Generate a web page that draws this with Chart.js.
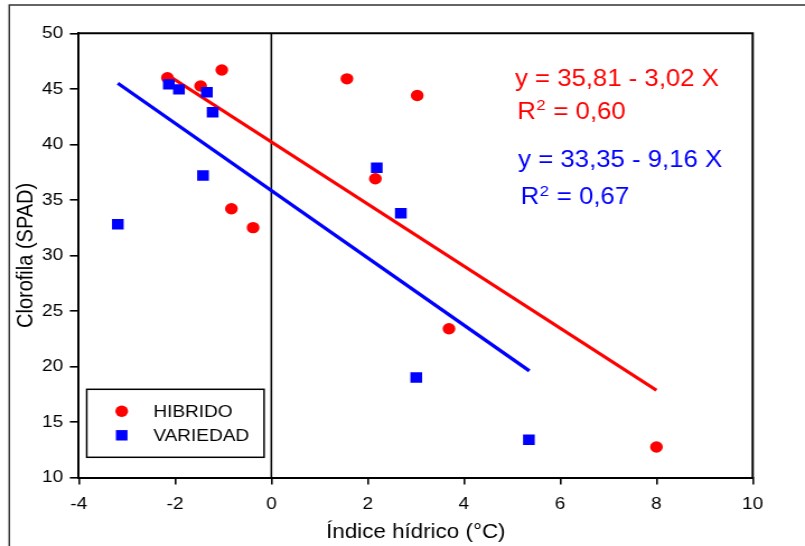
<!DOCTYPE html>
<html>
<head>
<meta charset="utf-8">
<script src="https://cdn.jsdelivr.net/npm/chart.js@4"></script>
<style>
  html, body { margin: 0; padding: 0; background: #fff; overflow: hidden; }
  #wrap { width: 719px; height: 546px; transform: scaleX(1.1196); transform-origin: 0 0; }
</style>
</head>
<body>
<div id="wrap"><canvas id="myChart" width="719" height="546"></canvas></div>
<script>
// valores
var hibridoX = [-2.16, -1.47, -1.03, -0.83, -0.38, 1.57, 2.16, 3.03, 3.69, 8.0];
var hibridoY = [46.0, 45.25, 46.7, 34.2, 32.5, 45.9, 36.9, 44.4, 23.4, 12.75];
var variedadX = [-3.19, -2.13, -1.92, -1.42, -1.34, -1.22, 2.19, 2.69, 3.01, 5.35];
var variedadY = [32.8, 45.4, 44.95, 37.2, 44.7, 42.9, 37.9, 33.8, 19.0, 13.4];

// rectas de regresión (extremos)
var hibridoLineX = [-2.14, 8.0];
var hibridoLineY = [46.2, 17.86];
var variedadLineX = [-3.19, 5.36];
var variedadLineY = [45.5, 19.6];

var eqTexts = ['y = 35,81 - 3,02 X', 'y = 33,35 - 9,16 X'];
var r2Texts = ['0,60', '0,67'];
var eqColors = ['#ff0000', '#0000ff'];

var xTicks = [-4, -2, 0, 2, 4, 6, 8, 10];
var yTicks = [10, 15, 20, 25, 30, 35, 40, 45, 50];

var FONT = "'Liberation Sans', Arial, sans-serif";

function toPoints(xs, ys) {
    return xs.map(function(x, i) { return { x: x, y: ys[i] }; });
}

var extras = {
    id: 'extras',
    beforeDraw: function(chart) {
        var ctx = chart.ctx;
        ctx.save();
        ctx.strokeStyle = '#333';
        ctx.lineWidth = 1.5;
        ctx.beginPath();
        ctx.moveTo(8.3, 546);
        ctx.lineTo(8.3, 5);
        ctx.lineTo(719, 5);
        ctx.stroke();
        ctx.restore();
    },
    afterDraw: function(chart) {
        var ctx = chart.ctx;
        var a = chart.chartArea;
        var xs = chart.scales.x, ys = chart.scales.y;
        ctx.save();
        // marco superior y derecho
        ctx.strokeStyle = '#000';
        ctx.lineWidth = 2;
        ctx.beginPath();
        ctx.moveTo(a.left, a.top);
        ctx.lineTo(a.right, a.top);
        ctx.lineTo(a.right, a.bottom);
        ctx.stroke();

        // ecuaciones
        var pos = [
            { ex: 5.06, ey: 45.95, rx: 5.107, ry: 43.06 },
            { ex: 5.128, ey: 38.70, rx: 5.178, ry: 35.34 }
        ];
        ctx.textBaseline = 'alphabetic';
        ctx.textAlign = 'left';
        pos.forEach(function(p, i) {
            ctx.fillStyle = eqColors[i];
            ctx.font = '23px ' + FONT;
            ctx.fillText(eqTexts[i], xs.getPixelForValue(p.ex), ys.getPixelForValue(p.ey) + 8.2);
            var rx = xs.getPixelForValue(p.rx);
            var ry = ys.getPixelForValue(p.ry) + 8.2;
            ctx.fillText('R', rx, ry);
            var w = ctx.measureText('R').width;
            ctx.font = '15px ' + FONT;
            ctx.fillText('2', rx + w + 0.5, ry - 8.3);
            var w2 = ctx.measureText('2').width;
            ctx.font = '23px ' + FONT;
            ctx.fillText(' = ' + r2Texts[i], rx + w + w2 + 1, ry);
        });

        // leyenda
        var lx = a.left + 7.06, ly = 389.3, lw = 158.4, lh = 68;
        ctx.strokeStyle = '#000';
        ctx.lineWidth = 1.5;
        ctx.strokeRect(lx, ly, lw, lh);
        var rows = [a.bottom - 66.2, a.bottom - 42.2];
        [0, 1].forEach(function(i) {
            var ds = chart.data.datasets[i];
            var cy = rows[i];
            var cx = a.left + 38.3;
            ctx.fillStyle = ds.backgroundColor;
            if (ds.pointStyle === 'rect') {
                ctx.fillRect(cx - 5.2, cy - 5.2, 10.4, 10.4);
            } else {
                ctx.beginPath();
                ctx.arc(cx, cy, 5.7, 0, Math.PI * 2);
                ctx.fill();
            }
            ctx.fillStyle = '#000';
            ctx.font = '17px ' + FONT;
            ctx.textBaseline = 'middle';
            ctx.fillText(ds.label, a.left + 66.5, cy + 1);
        });
        ctx.restore();
    }
};

var ctx = document.getElementById('myChart').getContext('2d');
var myChart = new Chart(ctx, {
    type: 'scatter',
    data: {
        datasets: [{
            label: 'HIBRIDO',
            data: toPoints(hibridoX, hibridoY),
            backgroundColor: '#ff0000',
            borderColor: '#ff0000',
            pointStyle: 'circle',
            pointRadius: 5.7,
            borderWidth: 0,
            order: 1
        }, {
            label: 'VARIEDAD',
            data: toPoints(variedadX, variedadY),
            backgroundColor: '#0000ff',
            borderColor: '#0000ff',
            pointStyle: 'rect',
            pointRadius: 7.4,
            borderWidth: 0,
            order: 0
        }, {
            label: 'ajuste HIBRIDO',
            type: 'line',
            data: toPoints(hibridoLineX, hibridoLineY),
            borderColor: '#ff0000',
            borderWidth: 3.3,
            pointRadius: 0,
            fill: false,
            order: 2
        }, {
            label: 'ajuste VARIEDAD',
            type: 'line',
            data: toPoints(variedadLineX, variedadLineY),
            borderColor: '#0000ff',
            borderWidth: 3.3,
            pointRadius: 0,
            fill: false,
            order: 2
        }, {
            label: 'cero',
            type: 'line',
            data: [{ x: 0, y: 10 }, { x: 0, y: 50 }],
            borderColor: '#000',
            borderWidth: 1.6,
            pointRadius: 0,
            fill: false,
            order: 3
        }]
    },
    options: {
        responsive: false,
        animation: false,
        devicePixelRatio: 1,
        layout: { padding: { left: 0, top: 33.3, right: 46.7, bottom: 0 } },
        plugins: {
            legend: { display: false },
            tooltip: { enabled: false }
        },
        scales: {
            x: {
                type: 'linear',
                min: -4, max: 10,
                afterFit: function(scale) { scale.height = 68.5; },
                afterBuildTicks: function(scale) {
                    scale.ticks = xTicks.map(function(v) { return { value: v }; });
                },
                grid: { drawOnChartArea: false, drawTicks: true, tickLength: 7, color: '#000', lineWidth: 1.6 },
                border: { display: true, color: '#000', width: 2 },
                ticks: { color: '#000', padding: 10, font: { family: FONT, size: 17 }, maxRotation: 0 },
                title: {
                    display: true,
                    text: 'Índice hídrico (°C)',
                    color: '#000',
                    font: { family: FONT, size: 20 },
                    padding: { top: 0, bottom: 2 }
                }
            },
            y: {
                type: 'linear',
                min: 10, max: 50,
                afterFit: function(scale) { scale.width = 70.4; },
                afterBuildTicks: function(scale) {
                    scale.ticks = yTicks.map(function(v) { return { value: v }; });
                },
                grid: { drawOnChartArea: false, drawTicks: true, tickLength: 8, color: '#000', lineWidth: 1.6 },
                border: { display: true, color: '#000', width: 2 },
                ticks: { color: '#000', padding: 6, font: { family: FONT, size: 17 } },
                title: {
                    display: true,
                    text: 'Clorofila (SPAD)',
                    color: '#000',
                    font: { family: FONT, size: 20 },
                    padding: { top: 11, bottom: 0 }
                }
            }
        }
    },
    plugins: [extras]
});
</script>
</body>
</html>
